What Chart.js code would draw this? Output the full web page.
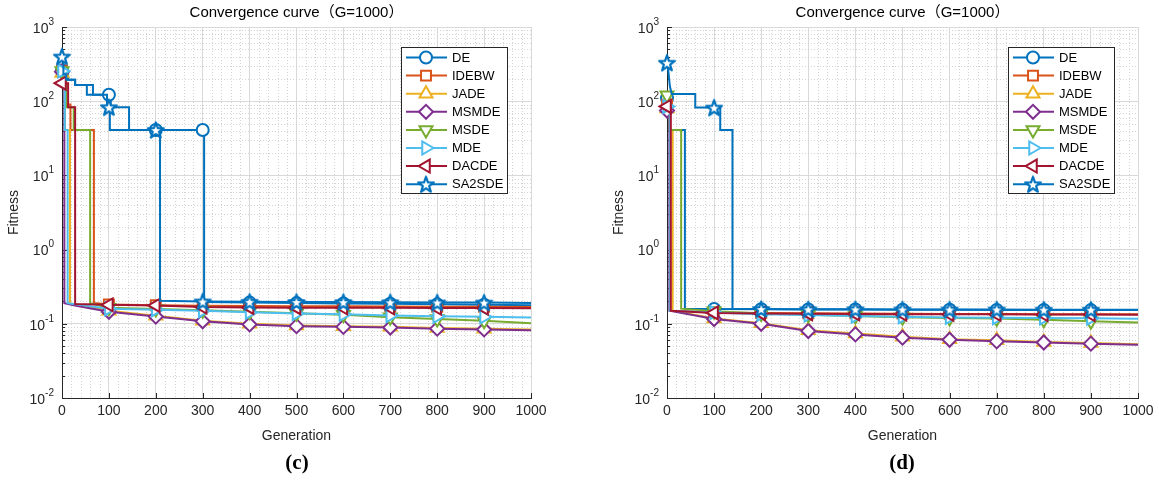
<!DOCTYPE html>
<html>
<head>
<meta charset="utf-8">
<script src="https://cdn.jsdelivr.net/npm/chart.js@4.4.0/dist/chart.umd.min.js"></script>
<style>
  body { margin: 0; background: #fff; width: 1159px; height: 485px; position: relative; overflow: hidden; }
  .panel { position: absolute; top: 0; height: 485px; }
  #panelC { left: 0; width: 580px; }
  #panelD { left: 605px; width: 554px; }
  .caption { position: absolute; top: 450px; font: bold 21px 'Liberation Serif', serif; transform: translateX(-50%); color: #000; }
</style>
</head>
<body>
<div class="panel" id="panelC"><canvas id="chartC"></canvas></div>
<div class="panel" id="panelD"><canvas id="chartD"></canvas></div>
<div class="caption" style="left:297px">(c)</div>
<div class="caption" style="left:902px">(d)</div>
<script>
// Convergence curves, values as [generation, fitness] pairs

const seriesNames = ['DE', 'IDEBW', 'JADE', 'MSMDE', 'MSDE', 'MDE', 'DACDE', 'SA2SDE'];
const xTicks = [0, 100, 200, 300, 400, 500, 600, 700, 800, 900, 1000];
const yDecades = [-2, -1, 0, 1, 2, 3];

// panel (c)
const cDE = [[0,260],[13,260],[13,194],[28,194],[28,165],[53,165],[53,122],[100,122],[104,122],[104,83],[143,83],[143,41],[200,41],[300,41],[303,41],[303,0.196],[400,0.193],[500,0.19],[600,0.188],[700,0.186],[800,0.183],[900,0.181],[1000,0.178]];
const cIDEBW = [[0,260],[8,260],[8,90],[18,90],[18,41],[68,41],[68,0.19],[100,0.182],[200,0.178],[300,0.175],[400,0.174],[500,0.173],[600,0.172],[700,0.171],[800,0.17],[900,0.17],[1000,0.169]];
const cJADE = [[0,240],[6,240],[6,41],[17,41],[17,0.19],[100,0.15],[200,0.128],[300,0.11],[400,0.1],[500,0.095],[600,0.093],[700,0.091],[800,0.088],[900,0.086],[1000,0.084]];
const cMSMDE = [[0,250],[5,250],[5,0.19],[30,0.175],[100,0.145],[200,0.125],[300,0.108],[400,0.098],[500,0.093],[600,0.091],[700,0.089],[800,0.086],[900,0.084],[1000,0.082]];
const cMSDE = [[0,255],[9,255],[9,83],[25,83],[25,41],[60,41],[60,0.19],[100,0.165],[200,0.158],[300,0.152],[400,0.145],[500,0.139],[600,0.132],[700,0.123],[800,0.116],[900,0.11],[1000,0.102]];
const cMDE = [[0,255],[6,255],[6,41],[12,41],[12,0.19],[100,0.16],[200,0.155],[300,0.15],[400,0.143],[500,0.138],[600,0.134],[700,0.129],[800,0.126],[900,0.124],[1000,0.122]];
const cDACDE = [[0,175],[13,175],[13,83],[28,83],[28,0.185],[100,0.18],[200,0.177],[300,0.168],[400,0.166],[500,0.165],[600,0.164],[700,0.164],[800,0.163],[900,0.163],[1000,0.162]];
const cSA2SDE = [[0,400],[3,400],[3,230],[9,230],[9,194],[28,194],[28,165],[66,165],[66,122],[96,122],[96,83],[100,83],[102,83],[102,41],[200,41],[209,41],[209,0.205],[300,0.2],[400,0.198],[500,0.197],[600,0.196],[700,0.195],[800,0.194],[900,0.193],[1000,0.19]];

// panel (d)
const dDE = [[0,110],[5,110],[5,41],[38,41],[38,0.16],[100,0.158],[200,0.157],[300,0.156],[400,0.156],[500,0.155],[600,0.155],[700,0.154],[800,0.154],[900,0.153],[1000,0.153]];
const dIDEBW = [[0,90],[7,90],[7,0.15],[100,0.142],[200,0.14],[300,0.139],[400,0.138],[500,0.137],[600,0.136],[700,0.136],[800,0.135],[900,0.135],[1000,0.134]];
const dJADE = [[0,80],[5,80],[5,41],[12,41],[12,0.15],[100,0.118],[200,0.102],[300,0.082],[400,0.074],[500,0.067],[600,0.062],[700,0.06],[800,0.057],[900,0.055],[1000,0.053]];
const dMSMDE = [[0,75],[5,75],[5,0.15],[100,0.116],[200,0.1],[300,0.08],[400,0.072],[500,0.065],[600,0.061],[700,0.058],[800,0.056],[900,0.054],[1000,0.052]];
const dMSDE = [[0,120],[6,120],[6,41],[30,41],[30,0.16],[100,0.148],[200,0.138],[300,0.132],[400,0.127],[500,0.123],[600,0.12],[700,0.118],[800,0.113],[900,0.108],[1000,0.104]];
const dMDE = [[0,85],[6,85],[6,0.15],[100,0.142],[200,0.135],[300,0.131],[400,0.127],[500,0.124],[600,0.122],[700,0.121],[800,0.12],[900,0.119],[1000,0.117]];
const dDACDE = [[0,85],[8,85],[8,0.15],[100,0.14],[200,0.138],[300,0.137],[400,0.136],[500,0.135],[600,0.134],[700,0.134],[800,0.133],[900,0.133],[1000,0.132]];
const dSA2SDE = [[0,330],[3,250],[6,160],[10,125],[60,125],[60,82],[100,82],[113,82],[113,41],[139,41],[139,0.16],[200,0.158],[300,0.157],[400,0.157],[500,0.156],[600,0.156],[700,0.156],[800,0.155],[900,0.155],[1000,0.155]];

const FONT = "'Liberation Sans', 'Noto Sans CJK SC', Arial, sans-serif";
const INK = '#262626';

function makeStar(color) {
    const c = document.createElement('canvas');
    c.width = 20; c.height = 20;
    const g = c.getContext('2d');
    g.beginPath();
    for (let i = 0; i < 10; i++) {
        const r = i % 2 === 0 ? 8.3 : 3.3;
        const a = -Math.PI / 2 + i * Math.PI / 5;
        g.lineTo(10 + r * Math.cos(a), 10.8 + r * Math.sin(a));
    }
    g.closePath();
    g.fillStyle = '#fff';
    g.fill();
    g.lineWidth = 2.2;
    g.lineJoin = 'round';
    g.strokeStyle = color;
    g.stroke();
    return c;
}

const seriesStyles = [
    { color: '#0072BD', point: 'circle', rot: 0, r: 6 },
    { color: '#D95319', point: 'rect', rot: 0, r: 7 },
    { color: '#EDB120', point: 'triangle', rot: 0, r: 7.5 },
    { color: '#7E2F8E', point: 'rectRot', rot: 0, r: 7 },
    { color: '#77AC30', point: 'triangle', rot: 180, r: 7.5 },
    { color: '#4DBEEE', point: 'triangle', rot: 90, r: 7.5 },
    { color: '#A2142F', point: 'triangle', rot: -90, r: 7.5 },
    { color: '#0072BD', point: makeStar('#0072BD'), rot: 0, r: 8 }
];

function isMarker(ctx) {
    if (!ctx.raw) return true;
    const x = ctx.raw.x;
    return x % 100 === 0 && x < 1000;
}

function buildDatasets(seriesData) {
    return seriesData.map((pts, i) => {
        const s = seriesStyles[i];
        return {
            label: seriesNames[i],
            data: pts.map(p => ({ x: p[0], y: p[1] })),
            borderColor: s.color,
            backgroundColor: s.color,
            borderWidth: 2,
            tension: 0,
            clip: false,
            pointStyle: s.point,
            pointRotation: s.rot,
            pointRadius: ctx => isMarker(ctx) ? s.r : 0,
            pointBorderColor: s.color,
            pointBackgroundColor: '#fff',
            pointBorderWidth: 2,
            order: seriesData.length - 1 - i
        };
    });
}

// dotted minor grid + inward tick marks
const minorGrid = {
    id: 'minorGrid',
    beforeDatasetsDraw(chart) {
        const { ctx, chartArea: a, scales: { x, y } } = chart;
        ctx.save();
        ctx.strokeStyle = '#d4d4d4';
        ctx.lineWidth = 1;
        ctx.setLineDash([1, 2]);
        for (let g = 20; g < 1000; g += 20) {
            if (g % 100 === 0) continue;
            const px = Math.round(x.getPixelForValue(g)) + 0.5;
            ctx.beginPath(); ctx.moveTo(px, a.top); ctx.lineTo(px, a.bottom); ctx.stroke();
        }
        for (let k = -2; k < 3; k++) {
            for (let m = 2; m <= 9; m++) {
                const py = Math.round(y.getPixelForValue(m * Math.pow(10, k))) + 0.5;
                ctx.beginPath(); ctx.moveTo(a.left, py); ctx.lineTo(a.right, py); ctx.stroke();
            }
        }
        ctx.setLineDash([]);
        ctx.strokeStyle = INK;
        for (const g of xTicks) {
            const px = Math.round(x.getPixelForValue(g)) + 0.5;
            ctx.beginPath(); ctx.moveTo(px, a.bottom); ctx.lineTo(px, a.bottom - 5); ctx.stroke();
        }
        for (let k = -2; k <= 3; k++) {
            for (let m = 1; m <= 9; m++) {
                if (k === 3 && m > 1) break;
                const py = Math.round(y.getPixelForValue(m * Math.pow(10, k))) + 0.5;
                const len = m === 1 ? 5 : 3;
                ctx.beginPath(); ctx.moveTo(a.left, py); ctx.lineTo(a.left + len, py); ctx.stroke();
            }
        }
        ctx.restore();
    }
};

// 10^n tick labels with raised exponent
const powerLabels = {
    id: 'powerLabels',
    afterDraw(chart) {
        const { ctx, chartArea: a, scales: { y } } = chart;
        ctx.save();
        ctx.fillStyle = INK;
        ctx.textAlign = 'right';
        ctx.textBaseline = 'middle';
        const right = a.left - 8;
        for (const e of yDecades) {
            const py = y.getPixelForValue(Math.pow(10, e));
            const ex = String(e);
            ctx.font = '10px ' + FONT;
            const ew = ctx.measureText(ex).width;
            ctx.fillText(ex, right, py - 5);
            ctx.font = '14px ' + FONT;
            ctx.fillText('10', right - ew, py + 2);
        }
        ctx.restore();
    }
};

// MATLAB-style legend box with line + marker samples
const lineLegend = {
    id: 'lineLegend',
    afterDraw(chart) {
        const { ctx, chartArea: a } = chart;
        const x0 = a.right - 130, y0 = a.top + 20, w = 106, h = 146;
        ctx.save();
        ctx.fillStyle = '#fff';
        ctx.fillRect(x0, y0, w, h);
        ctx.strokeStyle = INK;
        ctx.lineWidth = 1;
        ctx.strokeRect(x0 + 0.5, y0 + 0.5, w, h);
        chart.data.datasets.forEach((ds, i) => {
            const s = seriesStyles[i];
            const cy = y0 + 10.5 + i * 18.1;
            ctx.strokeStyle = s.color;
            ctx.lineWidth = 2;
            ctx.beginPath(); ctx.moveTo(x0 + 5, cy); ctx.lineTo(x0 + 46, cy); ctx.stroke();
            ctx.fillStyle = '#fff';
            ctx.strokeStyle = s.color;
            Chart.helpers.drawPoint(ctx, { pointStyle: s.point, rotation: s.rot, radius: s.r, borderWidth: 2 }, x0 + 25, cy);
            ctx.fillStyle = '#000';
            ctx.font = '13px ' + FONT;
            ctx.textAlign = 'left';
            ctx.textBaseline = 'middle';
            ctx.fillText(ds.label, x0 + 51, cy + 0.5);
        });
        ctx.restore();
    }
};

function createConvergenceChart(canvasId, seriesData, rightPad) {
    return new Chart(document.getElementById(canvasId), {
        type: 'line',
        data: { datasets: buildDatasets(seriesData) },
        options: {
            responsive: true,
            maintainAspectRatio: false,
            animation: false,
            events: [],
            layout: { padding: { left: 0, right: rightPad, top: 0, bottom: 40 } },
            plugins: {
                legend: { display: false },
                tooltip: { enabled: false },
                title: {
                    display: true,
                    text: 'Convergence curve（G=1000）',
                    fullSize: false,
                    color: '#000',
                    font: { family: FONT, size: 15, weight: 'normal', lineHeight: 1.1 },
                    padding: { top: 5, bottom: 5.5 }
                }
            },
            scales: {
                x: {
                    type: 'linear',
                    min: 0, max: 1000,
                    afterBuildTicks: s => { s.ticks = xTicks.map(v => ({ value: v })); },
                    afterFit: s => { s.height = 47; },
                    ticks: { color: INK, font: { family: FONT, size: 14 }, padding: 5, maxRotation: 0, autoSkip: false, callback: v => String(v) },
                    grid: { color: '#d9d9d9', drawTicks: false },
                    border: { color: INK, width: 1 },
                    title: { display: true, text: 'Generation', color: INK, font: { family: FONT, size: 14 }, padding: { top: 1, bottom: 0 } }
                },
                y: {
                    type: 'logarithmic',
                    min: 0.01, max: 1000,
                    afterBuildTicks: s => { s.ticks = yDecades.map(e => ({ value: Math.pow(10, e) })); },
                    afterFit: s => { s.width = 62; },
                    ticks: { display: false },
                    grid: { color: '#d9d9d9', drawTicks: false },
                    border: { color: INK, width: 1 },
                    title: { display: true, text: 'Fitness', color: INK, font: { family: FONT, size: 14 }, padding: { top: 6, bottom: 0 } }
                }
            }
        },
        plugins: [minorGrid, powerLabels, lineLegend]
    });
}

createConvergenceChart('chartC', [cDE, cIDEBW, cJADE, cMSMDE, cMSDE, cMDE, cDACDE, cSA2SDE], 49);
createConvergenceChart('chartD', [dDE, dIDEBW, dJADE, dMSMDE, dMSDE, dMDE, dDACDE, dSA2SDE], 21);
</script>
</body>
</html>
